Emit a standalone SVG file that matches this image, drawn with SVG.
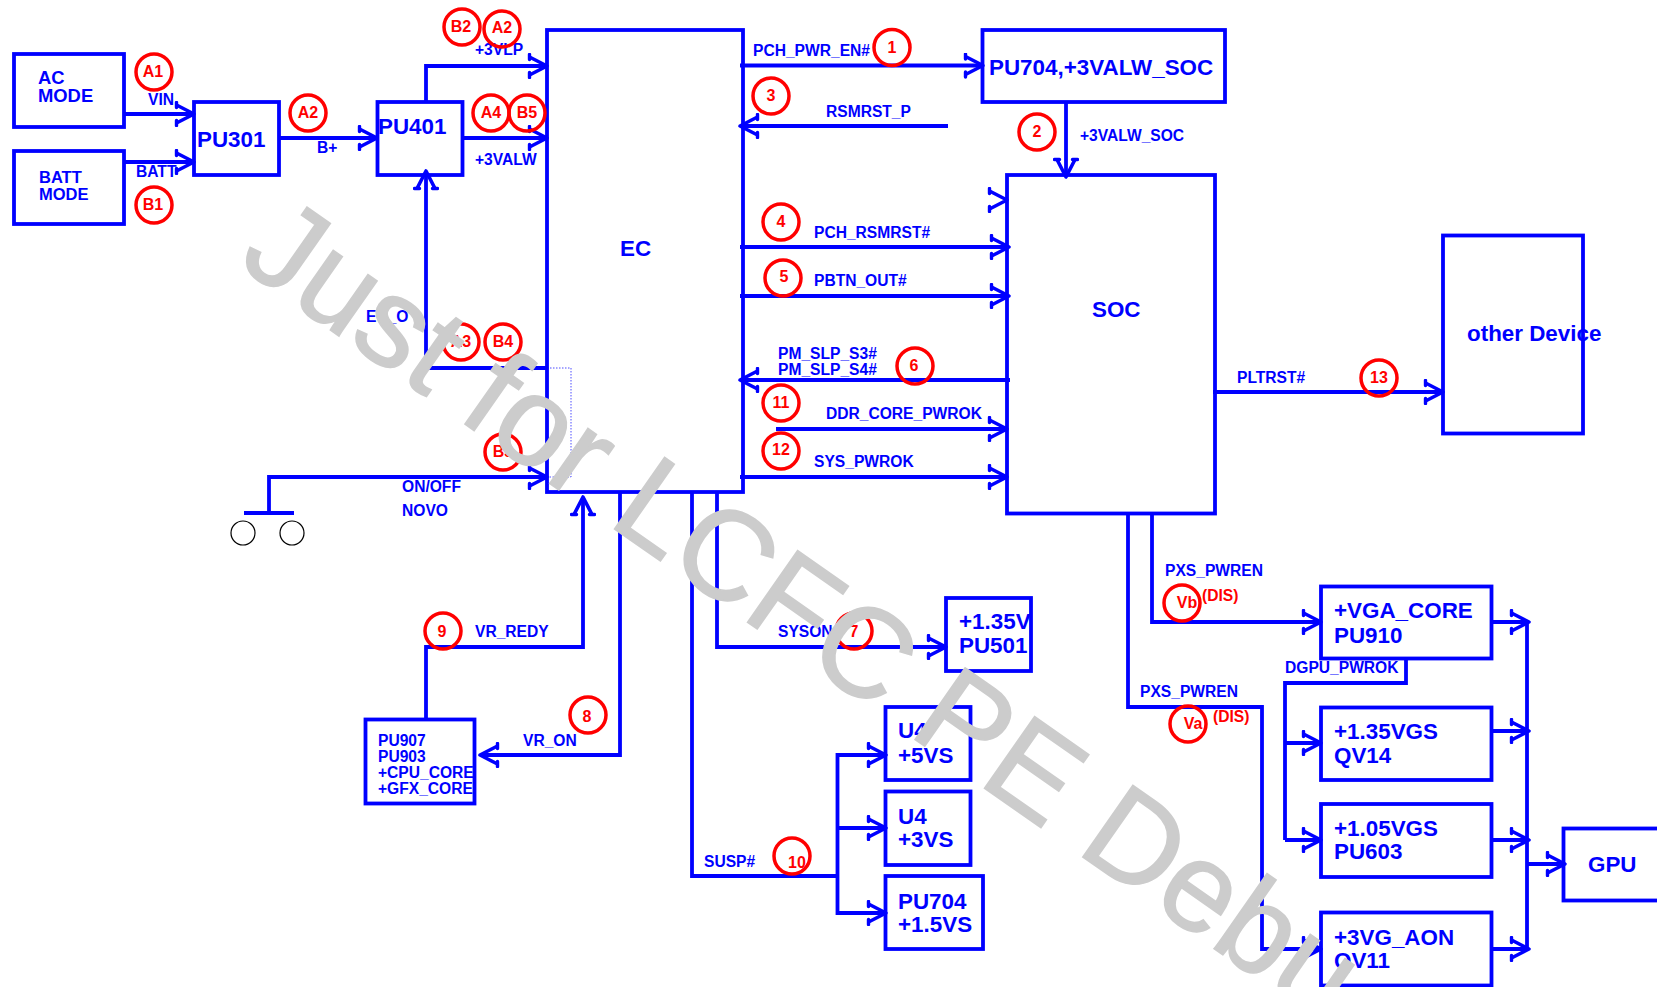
<svg xmlns="http://www.w3.org/2000/svg" width="1657" height="987" viewBox="0 0 1657 987">
<style>
text{font-family:"Liberation Sans",Arial,sans-serif;font-weight:bold;fill:#0000ff}
.b{fill:#fff;stroke:#0000ff;stroke-width:3.8}
.l{font-size:15.6px}
.n{font-size:22.4px}
.m{font-size:18.4px}
.c{fill:none;stroke:#0000ff;stroke-width:3.8;stroke-linejoin:miter}
.a{marker-end:url(#ah)}
.r{fill:none;stroke:#ff0000;stroke-width:3.5}
.rt{fill:#ff0000;font-size:16px;text-anchor:middle}
.dis{fill:#ff0000;font-size:15.6px}
.wm{font-weight:normal;fill:#cccccc;stroke:#cccccc;stroke-width:1.500;font-size:127px}
</style>
<defs>
<marker id="ah" markerUnits="userSpaceOnUse" markerWidth="26" markerHeight="26" refX="21" refY="13" orient="auto">
<path d="M3.500,4 L21,13 L3.500,22" fill="none" stroke="#0000ff" stroke-width="3.600" stroke-linejoin="round"/>
<path d="M3.500,1.500 V6.500 M3.500,19.500 V24.500" fill="none" stroke="#0000ff" stroke-width="3.400" stroke-linecap="round"/>
</marker>
</defs>
<rect width="1657" height="987" fill="#fff"/>

<g id="nodes">
<g id="ac-mode"><rect class="b" x="14" y="54" width="110" height="73"/><text class="m" x="38" y="84">AC</text><text class="m" x="38" y="102">MODE</text></g>
<g id="batt-mode"><rect class="b" x="14" y="151" width="110" height="73"/><text class="l" x="39" y="183" style="font-size:16.5px">BATT</text><text class="l" x="39" y="200" style="font-size:16.5px">MODE</text></g>
<g id="pu301"><rect class="b" x="194" y="102" width="85" height="73"/><text class="n" x="197" y="147">PU301</text></g>
<g id="pu401"><rect class="b" x="377.500" y="102" width="85" height="73"/><text class="n" x="378" y="134">PU401</text></g>
<g id="ec"><rect class="b" x="547" y="30" width="196" height="462"/><text class="n" x="620" y="256">EC</text></g>
<g id="pu704-soc"><rect class="b" x="982.500" y="30" width="242.500" height="72"/><text class="n" x="989" y="75">PU704,+3VALW_SOC</text></g>
<g id="soc"><rect class="b" x="1007" y="175" width="208" height="338.500"/><text class="n" x="1092" y="317">SOC</text></g>
<g id="other-device"><rect class="b" x="1443" y="235.500" width="140" height="198"/></g>
<g id="pu501"><rect class="b" x="946" y="598" width="85" height="73"/><text class="n" x="959" y="629">+1.35V</text><text class="n" x="959" y="653">PU501</text></g>
<g id="u4-5vs"><rect class="b" x="885.500" y="707" width="85" height="73"/><text class="n" x="898" y="738">U4</text><text class="n" x="898" y="763">+5VS</text></g>
<g id="u4-3vs"><rect class="b" x="885.500" y="791.500" width="85" height="73.500"/><text class="n" x="898" y="824">U4</text><text class="n" x="898" y="847">+3VS</text></g>
<g id="pu704-15vs"><rect class="b" x="885.500" y="876" width="97.500" height="73"/><text class="n" x="898" y="909">PU704</text><text class="n" x="898" y="932">+1.5VS</text></g>
<g id="pu907"><rect class="b" x="365.500" y="719.500" width="109" height="84"/><text class="l" x="378" y="746">PU907</text><text class="l" x="378" y="762">PU903</text><text class="l" x="378" y="778">+CPU_CORE</text><text class="l" x="378" y="794">+GFX_CORE</text></g>
<g id="vga-core"><rect class="b" x="1321" y="586.500" width="170.500" height="72"/><text class="n" x="1334" y="618">+VGA_CORE</text><text class="n" x="1334" y="643">PU910</text></g>
<g id="vgs135"><rect class="b" x="1321" y="707.500" width="170.500" height="72.500"/><text class="n" x="1334" y="739">+1.35VGS</text><text class="n" x="1334" y="763">QV14</text></g>
<g id="vgs105"><rect class="b" x="1321" y="804" width="170.500" height="73"/><text class="n" x="1334" y="836">+1.05VGS</text><text class="n" x="1334" y="859">PU603</text></g>
<g id="vg-aon"><rect class="b" x="1321" y="912.500" width="170.500" height="73"/><text class="n" x="1334" y="945">+3VG_AON</text><text class="n" x="1334" y="968">QV11</text></g>
<g id="gpu"><rect class="b" x="1563.500" y="828.500" width="110" height="72"/><text class="n" x="1588" y="872">GPU</text></g>
</g>

<g id="connectors">
<path class="c a" d="M124,114H194"/>
<path class="c a" d="M124,162H194"/>
<path class="c a" d="M279,138H377"/>
<path class="c a" d="M426,102V66H547"/>
<path class="c a" d="M462,138H547"/>
<path class="c a" d="M547,368H426V171"/>
<path d="M547,368H571V477H547" fill="none" stroke="#0000ff" stroke-width="1" stroke-dasharray="1.500 1.500" opacity=".7"/>
<path class="c a" d="M269,513V477H547"/>
<path class="c" d="M244,513H294"/>
<path class="c a" d="M740,65.500H983"/>
<path class="c a" d="M948,126H740"/>
<path class="c a" d="M1066,102V177"/>
<path class="c a" d="M990,200H1007" stroke-opacity="0"/>
<path class="c a" d="M740,247H1009"/>
<path class="c a" d="M740,296H1009"/>
<path class="c a" d="M1010,380H740"/>
<path class="c a" d="M776,429H1007"/>
<path class="c a" d="M740,477H1007"/>
<path class="c a" d="M1213,392H1443"/>
<path class="c a" d="M426,719V647H583V497"/>
<path class="c a" d="M620,492V755H480"/>
<path class="c a" d="M717,492V647H946"/>
<path class="c" d="M692,492V876H836"/>
<path class="c a" d="M837.500,755H886"/>
<path class="c a" d="M837.500,828H886"/>
<path class="c a" d="M837.500,753V913H886"/>
<path class="c a" d="M1152,514V622H1321"/>
<path class="c a" d="M1128,514V707H1262V949H1321"/>
<path class="c" d="M1406,658V683H1285V840"/>
<path class="c a" d="M1285,743H1321"/>
<path class="c a" d="M1285,840H1321"/>
<path class="c a" d="M1491,622H1529"/>
<path class="c a" d="M1491,731H1529"/>
<path class="c a" d="M1491,840H1529"/>
<path class="c a" d="M1491,949H1529"/>
<path class="c" d="M1527,622V949"/>
<path class="c a" d="M1527,864H1565"/>
</g>

<g id="signal-labels">
<text class="l" x="148" y="105">VIN</text>
<text class="l" x="136" y="177">BATT</text>
<text class="l" x="317" y="153">B+</text>
<text class="l" x="475" y="55">+3VLP</text>
<text class="l" x="475" y="165">+3VALW</text>
<text class="l" x="366" y="322">EC_O</text>
<text class="l" x="402" y="492">ON/OFF</text>
<text class="l" x="402" y="516">NOVO</text>
<text class="l" x="753" y="56">PCH_PWR_EN#</text>
<text class="l" x="826" y="117">RSMRST_P</text>
<text class="l" x="1080" y="141">+3VALW_SOC</text>
<text class="l" x="814" y="238">PCH_RSMRST#</text>
<text class="l" x="814" y="286">PBTN_OUT#</text>
<text class="l" x="778" y="359">PM_SLP_S3#</text>
<text class="l" x="778" y="375">PM_SLP_S4#</text>
<text class="l" x="826" y="419">DDR_CORE_PWROK</text>
<text class="l" x="814" y="467">SYS_PWROK</text>
<text class="l" x="1237" y="383">PLTRST#</text>
<text class="n" x="1467" y="341">other Device</text>
<text class="l" x="475" y="637">VR_REDY</text>
<text class="l" x="523" y="746">VR_ON</text>
<text class="l" x="778" y="637">SYSON</text>
<text class="l" x="704" y="867">SUSP#</text>
<text class="l" x="1285" y="673">DGPU_PWROK</text>
<text class="l" x="1165" y="576">PXS_PWREN</text>
<text class="l" x="1140" y="697">PXS_PWREN</text>
</g>

<g id="markers">
<circle class="r" cx="154" cy="72" r="18"/><circle class="r" cx="154" cy="205" r="18"/><circle class="r" cx="308" cy="113" r="18"/><circle class="r" cx="462" cy="27" r="18"/><circle class="r" cx="502" cy="29" r="18"/><circle class="r" cx="491" cy="113" r="18"/><circle class="r" cx="527" cy="113" r="18"/><circle class="r" cx="461" cy="342" r="18"/><circle class="r" cx="503" cy="342" r="18"/><circle class="r" cx="503" cy="452" r="18"/><circle class="r" cx="892" cy="47.500" r="18"/><circle class="r" cx="771" cy="96" r="18"/><circle class="r" cx="1037" cy="132" r="18"/><circle class="r" cx="781" cy="222" r="18"/><circle class="r" cx="783" cy="278" r="18"/><circle class="r" cx="915" cy="366" r="18"/><circle class="r" cx="781" cy="403" r="18"/><circle class="r" cx="781" cy="451" r="18"/><circle class="r" cx="1379" cy="378" r="18"/><circle class="r" cx="443" cy="631" r="18"/><circle class="r" cx="588" cy="715" r="18"/><circle class="r" cx="854" cy="631" r="18"/><circle class="r" cx="792" cy="856" r="18"/><circle class="r" cx="1182" cy="603" r="18"/><circle class="r" cx="1188" cy="724" r="18"/>
<text class="rt" x="153" y="77">A1</text><text class="rt" x="153" y="210">B1</text><text class="rt" x="308" y="118">A2</text><text class="rt" x="461" y="32">B2</text><text class="rt" x="502" y="33">A2</text><text class="rt" x="491" y="118">A4</text><text class="rt" x="527" y="118">B5</text><text class="rt" x="461" y="347">A3</text><text class="rt" x="503" y="347">B4</text><text class="rt" x="503" y="457">B3</text>
<text class="rt" x="892" y="53">1</text><text class="rt" x="771" y="101">3</text><text class="rt" x="1037" y="137">2</text><text class="rt" x="781" y="227">4</text><text class="rt" x="784" y="282">5</text><text class="rt" x="914" y="371">6</text><text class="rt" x="781" y="408">11</text><text class="rt" x="781" y="455">12</text><text class="rt" x="1379" y="383">13</text><text class="rt" x="442" y="637">9</text><text class="rt" x="587" y="722">8</text><text class="rt" x="854" y="637">7</text><text class="rt" x="797" y="868">10</text>
<text class="rt" x="1187" y="608">Vb</text><text class="rt" x="1193" y="729">Va</text>
<text class="dis" x="1202" y="601">(DIS)</text><text class="dis" x="1213" y="722">(DIS)</text>
</g>

<g id="push-button" fill="#fff" stroke="#000" stroke-width="1.200"><circle cx="243" cy="533" r="12"/><circle cx="292" cy="533" r="12"/></g>

<text id="watermark" class="wm" transform="translate(236,264) rotate(35)">Just for LCFC PE Debu</text>
</svg>
